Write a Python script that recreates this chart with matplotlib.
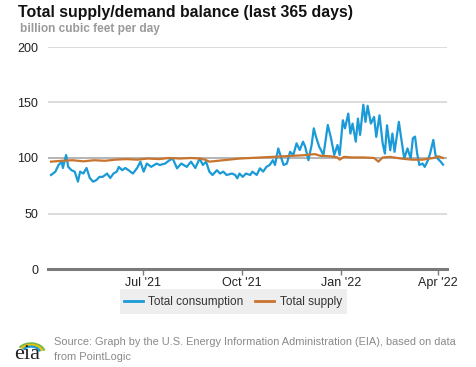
import numpy as np
import pandas as pd
import matplotlib
matplotlib.use('Agg')
import matplotlib.pyplot as plt
from matplotlib.patches import Arc, Rectangle
from matplotlib.lines import Line2D

plt.rcParams['font.family'] = ['Liberation Sans', 'DejaVu Sans']

start = pd.Timestamp('2021-04-07')

# consumption (day offset from start, bcf/d)
cons_days = [0, 4, 7, 10, 11, 14, 16, 19, 22, 25, 27, 30, 33, 36, 39, 42, 45, 48, 52, 55,
             58, 61, 63, 66, 69, 72, 76, 80, 83, 86, 89, 93, 98, 101, 106, 110, 113, 117, 121, 126,
             130, 134, 138, 141, 144, 147, 150, 154, 157, 160, 163, 168, 171, 173, 175, 178, 181, 185, 187, 191,
             194, 197, 200, 203, 206, 208, 211, 214, 216, 219, 222, 225, 228, 231, 234, 236, 239, 242, 244, 246,
             249, 253, 257, 260, 263, 266, 268, 271, 273, 276, 278, 280, 283, 285, 287, 290, 292, 294, 297, 300,
             302, 305, 308, 310, 312, 315, 317, 319, 323, 325, 328, 331, 334, 336, 338, 340, 342, 345, 347, 350,
             352, 355, 357, 359, 362, 364]
consumption = [84.7, 87.6, 93.7, 96.7, 91, 102.7, 92, 89, 87.7, 78.7, 87.7, 86, 91, 82, 78.7, 80, 83, 83, 86, 82,
               86, 87.7, 92, 89, 91, 89, 86, 91, 96.7, 87.7, 95, 92, 95, 93.7, 95, 98, 99.5, 90.7, 95, 92,
               96.7, 91, 99.5, 93.7, 96.7, 87.7, 84.7, 89, 86, 87.7, 84.7, 86, 84.7, 81.7, 86, 83, 86, 84.7, 87.7, 84.7,
               90.7, 87.7, 92, 93.7, 98, 93.7, 108.6, 99.5, 93.7, 95, 105.6, 102.7, 113.2, 107.2, 114.7, 110.2, 98, 111.7, 126.7, 119.3,
               110.2, 102.7, 129.7, 117.8, 102.7, 111.7, 102.7, 134, 126.7, 140, 122, 131, 114.7, 135.5, 120.8, 148, 132.5, 147, 131, 137,
               119, 138.5, 113, 104, 129.5, 107, 122, 105.6, 132.5, 119, 99.5, 108.6, 99.5, 117.8, 119.3, 104, 93.7, 95, 92, 98,
               104, 116.3, 102.7, 99.5, 96.5, 94]

supply_days = [0, 10, 20, 30, 40, 50, 60, 70, 80, 90, 100, 110, 120, 130, 138, 143, 147, 155, 165, 175,
               185, 195, 205, 215, 225, 235, 245, 250, 260, 266, 268, 272, 280, 290, 300, 304, 308, 315, 325, 335,
               345, 355, 360, 364]
supply = [96.7, 97.5, 98, 97, 98, 97.5, 98.5, 99, 98.5, 99.5, 99, 100, 99.5, 100, 99.5, 98.5, 96.7, 97.5, 98.5, 99.5,
          100, 100.5, 101, 101.5, 102, 102.5, 103.5, 102, 101.5, 100.5, 98.5, 101, 100.5, 100.5, 100, 96.7, 100.5, 101, 99.5, 98.5,
          98.5, 100, 101.5, 100]

yticks = [0, 50, 100, 150, 200]
xtick_dates = ['2021-07-01', '2021-10-01', '2022-01-01', '2022-04-01']
xtick_labels = ["Jul '21", "Oct '21", "Jan '22", "Apr '22"]

c_cons = '#1a9ad7'
c_sup = '#c8742f'

fig = plt.figure(figsize=(4.77, 3.67), dpi=100)
ax = fig.add_axes([48 / 477, 1 - 269 / 367, 399 / 477, 222 / 367])

cd = start + pd.to_timedelta(cons_days, unit='D')
sd = start + pd.to_timedelta(supply_days, unit='D')
ax.plot(cd, consumption, color=c_cons, lw=1.6, zorder=3)
ax.plot(sd, supply, color=c_sup, lw=1.6, zorder=4)

ax.set_ylim(0, 200)
ax.set_xlim(start - pd.Timedelta(days=2.8), start + pd.Timedelta(days=367.7))
ax.set_yticks(yticks)
for v in yticks[1:]:
    ax.axhline(v, color='#a8a8a8' if v == 100 else '#d6d6d6', lw=1.2, zorder=1)
ax.axhline(0, color='#7a7a7a', lw=2.2, zorder=5, clip_on=False)

ax.set_xticks(pd.to_datetime(xtick_dates))
ax.set_xticklabels(xtick_labels)
ax.tick_params(axis='x', length=4, width=1, color='#7a7a7a', labelsize=9, labelcolor='#222222', pad=1.5)
ax.tick_params(axis='y', length=0, labelsize=9, labelcolor='#222222', pad=7)
for s in ax.spines.values():
    s.set_visible(False)

fig.text(18 / 477, 1 - 13 / 367, 'Total supply/demand balance (last 365 days)',
         fontsize=11.4, fontweight='bold', color='#111111', va='center')
fig.text(20 / 477, 1 - 29 / 367, 'billion cubic feet per day',
         fontsize=8.6, fontweight='bold', color='#9a9a9a', va='center')

# legend box
fig.patches.append(Rectangle((120 / 477, 1 - 314 / 367), 227 / 477, 25 / 367,
                             transform=fig.transFigure, facecolor='#eeeeee', edgecolor='none'))
handles = [Line2D([], [], color=c_cons, lw=2), Line2D([], [], color=c_sup, lw=2)]
fig.legend(handles, ['Total consumption', 'Total supply'], loc='center',
           bbox_to_anchor=(233 / 477, 1 - 302 / 367), ncol=2, frameon=False,
           fontsize=8.5, handlelength=1.6, handletextpad=0.5, columnspacing=1.0,
           labelcolor='#333333')

fig.text(54 / 477, 1 - 342 / 367,
         'Source: Graph by the U.S. Energy Information Administration (EIA), based on data',
         fontsize=7.9, color='#8a8a8a', va='center')
fig.text(54 / 477, 1 - 357 / 367, 'from PointLogic', fontsize=7.9, color='#8a8a8a', va='center')

# eia logo
lax = fig.add_axes([12 / 477, 1 - 362 / 367, 34 / 477, 30 / 367])
lax.set_xlim(0, 34)
lax.set_ylim(0, 30)
lax.axis('off')
for r, col in zip([12, 10, 8], ['#7ab648', '#f2c400', '#1a9ad7']):
    lax.add_patch(Arc((19, 9), 2.3 * r, 1.6 * r, theta1=10, theta2=155, color=col, lw=1.6))
lax.text(15.5, 7.5, 'eia', family='Liberation Serif', fontsize=16, color='#222222',
         ha='center', va='center')

fig.savefig('out.png', dpi=100, facecolor='white')
